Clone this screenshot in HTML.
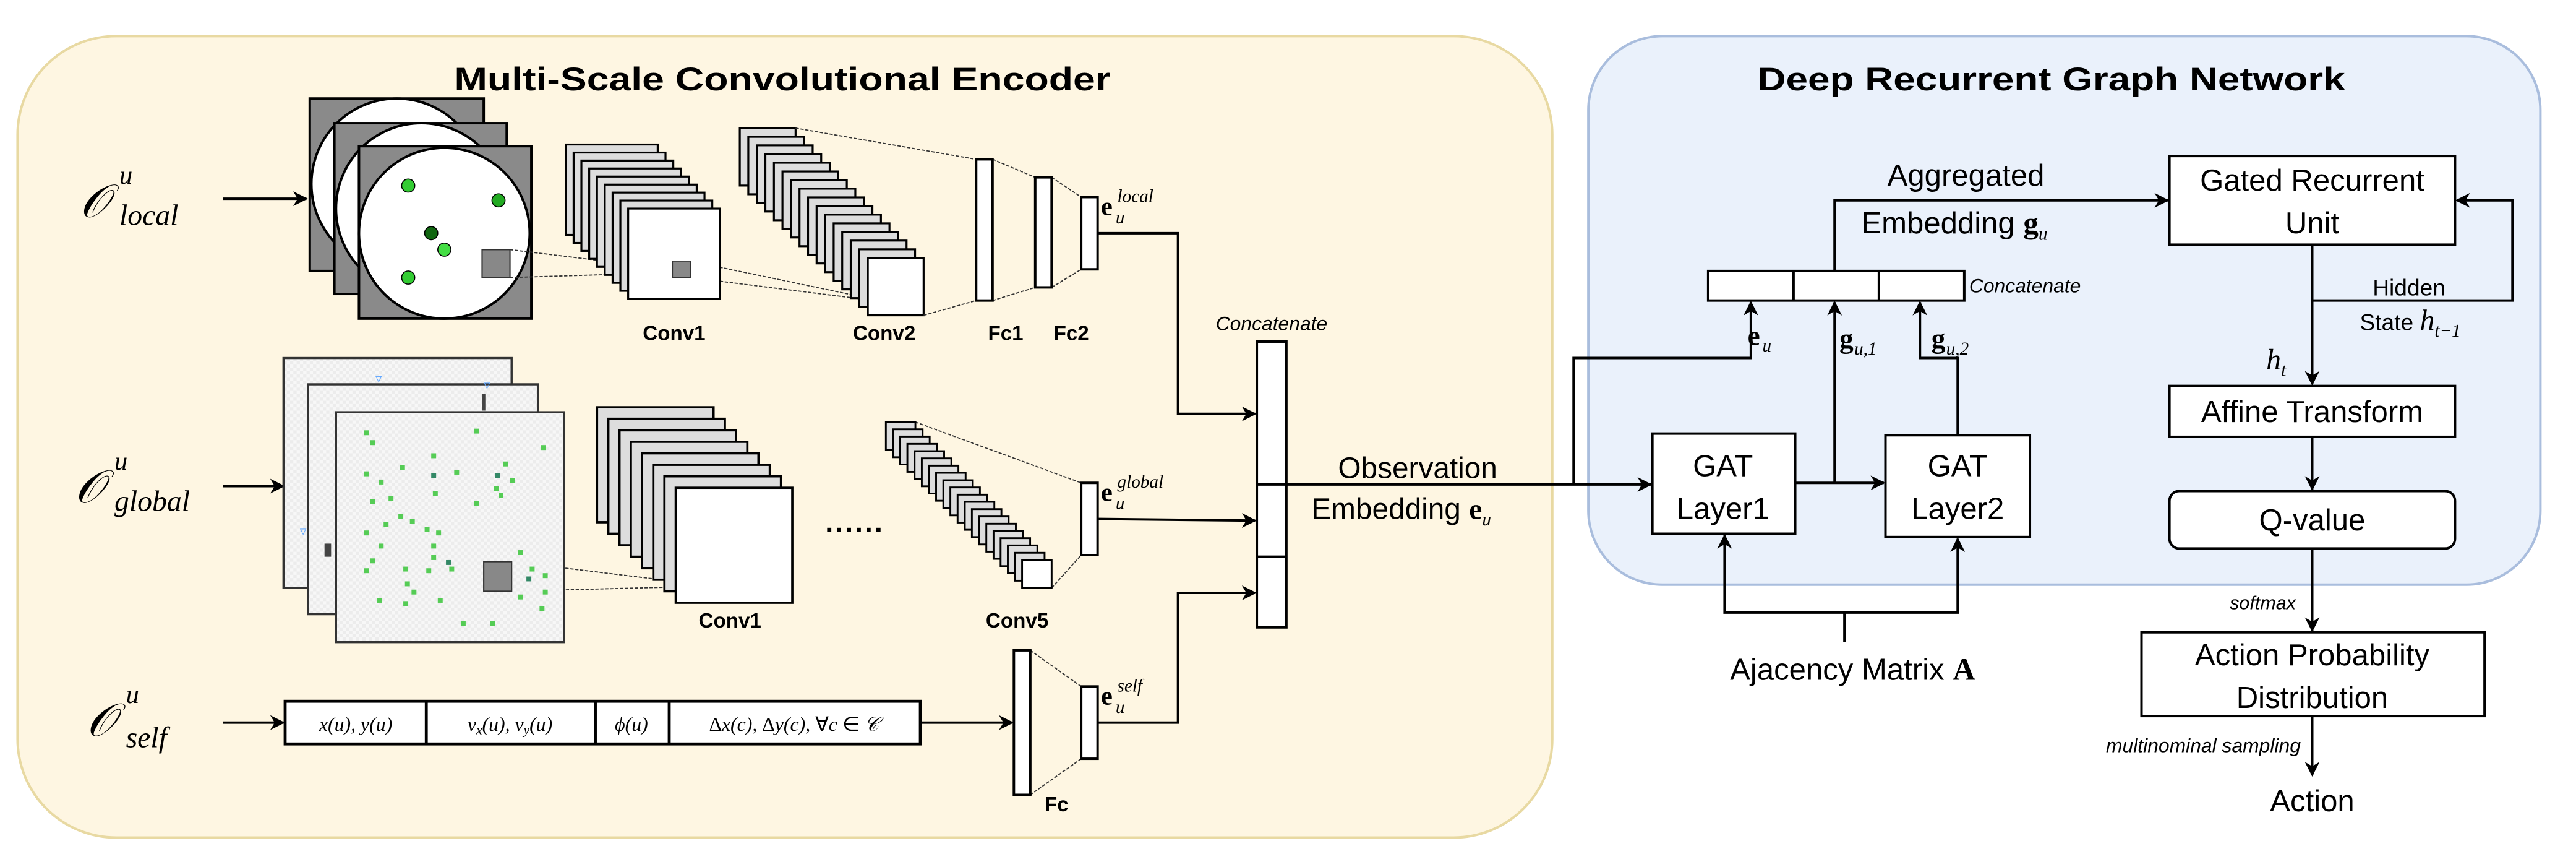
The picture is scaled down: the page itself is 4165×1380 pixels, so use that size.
<!DOCTYPE html>
<html><head><meta charset="utf-8"><style>
html,body{margin:0;padding:0;background:#fff;}
svg{display:block;}
.s{font-family:"Liberation Sans",sans-serif;}
.m{font-family:"Liberation Serif",serif;font-style:italic;}
.mb{font-family:"Liberation Serif",serif;font-weight:bold;}
</style></head><body>
<svg width="4165" height="1380" viewBox="0 0 1568 520" xmlns="http://www.w3.org/2000/svg">
<defs>
<marker id="ar" viewBox="0 0 10 10" refX="9" refY="5" markerWidth="9" markerHeight="9" orient="auto" markerUnits="userSpaceOnUse"><path d="M0,0 L10,5 L0,10 L3,5 z" fill="#000"/></marker>
<pattern id="chk" width="4" height="4" patternUnits="userSpaceOnUse"><rect width="4" height="4" fill="#f7f7f7"/><rect width="2" height="2" fill="#ececec"/><rect x="2" y="2" width="2" height="2" fill="#ececec"/></pattern>
</defs>
<rect x="10" y="22" width="935" height="488" rx="60" fill="#fef6e2" stroke="#e8d9a2" stroke-width="1.5"/>
<rect x="967" y="22" width="580" height="334" rx="45" fill="#eaf1fb" stroke="#a9bddd" stroke-width="1.5"/>
<text x="476" y="55" class="s" font-weight="bold" font-size="20" text-anchor="middle" textLength="400" lengthAdjust="spacingAndGlyphs">Multi-Scale Convolutional Encoder</text>
<text x="1249" y="55" class="s" font-weight="bold" font-size="20" text-anchor="middle" textLength="358" lengthAdjust="spacingAndGlyphs">Deep Recurrent Graph Network</text>

<g fill="none" stroke="#000" stroke-width="1.5">
<line x1="135" y1="121" x2="186" y2="121" marker-end="url(#ar)"/>
<line x1="135" y1="296" x2="172" y2="296" marker-end="url(#ar)"/>
<line x1="135" y1="440" x2="172" y2="440" marker-end="url(#ar)"/>
</g>
<text x="48" y="132" class="m" font-size="28">𝒪</text>
<text x="72" y="112" class="m" font-size="16">u</text>
<text x="72" y="137" class="m" font-size="18">local</text>
<text x="45" y="306" class="m" font-size="28">𝒪</text>
<text x="69" y="286" class="m" font-size="16">u</text>
<text x="69" y="311" class="m" font-size="18">global</text>
<text x="52" y="448" class="m" font-size="28">𝒪</text>
<text x="76" y="428" class="m" font-size="16">u</text>
<text x="76" y="455" class="m" font-size="18">self</text>

<g stroke="#000" stroke-width="1.5">
<rect x="188" y="60" width="106" height="105" fill="#8a8a8a"/>
<ellipse cx="241" cy="112" rx="52" ry="52" fill="#fff"/>
<rect x="203" y="75" width="105" height="104" fill="#8a8a8a"/>
<ellipse cx="256" cy="127" rx="52" ry="52" fill="#fff"/>
<rect x="218" y="89" width="105" height="105" fill="#8a8a8a"/>
<ellipse cx="270" cy="142" rx="52" ry="52" fill="#fff"/>
</g>
<g stroke="#000" stroke-width="0.6">
<circle cx="248" cy="113" r="4" fill="#3c3"/>
<circle cx="303" cy="122" r="4" fill="#2a2"/>
<circle cx="262" cy="142" r="4" fill="#161"/>
<circle cx="270" cy="152" r="4" fill="#4d4"/>
<circle cx="248" cy="169" r="4" fill="#3c3"/>
</g>
<rect x="293" y="152" width="17" height="17" fill="#888" stroke="#333" stroke-width="0.8"/>
<g stroke="#333" stroke-width="0.7" stroke-dasharray="2,1">
<line x1="310" y1="152" x2="409" y2="164"/><line x1="310" y1="169" x2="409" y2="166"/>
<line x1="420" y1="159" x2="540" y2="184"/><line x1="420" y1="169" x2="540" y2="184"/>
</g>
<g stroke="#000" stroke-width="1.2" fill="#ddd">
<rect x="344" y="88" width="56" height="55"/><rect x="348.75" y="92.9" width="56" height="55"/><rect x="353.5" y="97.75" width="56" height="55"/><rect x="358.25" y="102.6" width="56" height="55"/><rect x="363" y="107.5" width="56" height="55"/><rect x="367.75" y="112.4" width="56" height="55"/><rect x="372.5" y="117.25" width="56" height="55"/><rect x="377.25" y="122.1" width="56" height="55"/><rect x="382" y="127" width="56" height="55" fill="#fff"/>
</g>
<rect x="409" y="159" width="11" height="10" fill="#888" stroke="#333" stroke-width="0.6"/>
<g stroke="#000" stroke-width="1.2" fill="#ddd">
<rect x="450" y="78" width="34" height="35"/><rect x="455.2" y="83.3" width="34" height="35"/><rect x="460.4" y="88.5" width="34" height="35"/><rect x="465.6" y="93.8" width="34" height="35"/><rect x="470.8" y="99.1" width="34" height="35"/><rect x="476" y="104.4" width="34" height="35"/><rect x="481.2" y="109.6" width="34" height="35"/><rect x="486.4" y="114.9" width="34" height="35"/><rect x="491.6" y="120.2" width="34" height="35"/><rect x="496.8" y="125.4" width="34" height="35"/><rect x="502" y="130.7" width="34" height="35"/><rect x="507.2" y="136" width="34" height="35"/><rect x="512.4" y="141.2" width="34" height="35"/><rect x="517.6" y="146.5" width="34" height="35"/><rect x="522.8" y="151.8" width="34" height="35"/><rect x="528" y="157" width="34" height="35" fill="#fff"/>
</g>
<g stroke="#333" stroke-width="0.7" stroke-dasharray="2,1">
<line x1="484" y1="78" x2="594" y2="97"/><line x1="562" y1="192" x2="594" y2="183"/>
<line x1="604" y1="97" x2="630" y2="108"/><line x1="604" y1="183" x2="630" y2="175"/>
<line x1="640" y1="108" x2="658" y2="120"/><line x1="640" y1="175" x2="658" y2="164"/>
<line x1="557" y1="257" x2="658" y2="294"/><line x1="640" y1="358" x2="658" y2="338"/>
<line x1="627" y1="396" x2="658" y2="418"/><line x1="627" y1="484" x2="658" y2="462"/>
<line x1="311" y1="342" x2="427" y2="356"/><line x1="311" y1="360" x2="427" y2="357"/>
</g>
<g stroke="#000" stroke-width="1.5" fill="#fff">
<rect x="594" y="97" width="10" height="86"/>
<rect x="630" y="108" width="10" height="67"/>
<rect x="658" y="120" width="10" height="44"/>
<rect x="658" y="294" width="10" height="44"/>
<rect x="617" y="396" width="10" height="88"/>
<rect x="658" y="418" width="10" height="44"/>
</g>
<g class="s" font-weight="bold" font-size="12.5" text-anchor="middle">
<text x="410" y="207">Conv1</text><text x="538" y="207">Conv2</text><text x="612" y="207">Fc1</text><text x="652" y="207">Fc2</text>
<text x="444" y="382">Conv1</text><text x="619" y="382">Conv5</text><text x="643" y="494">Fc</text>
</g>
<text x="670" y="131" class="mb" font-size="16">e</text><text x="679" y="136" class="m" font-size="11">u</text><text x="680" y="123" class="m" font-size="11">local</text>
<text x="670" y="305" class="mb" font-size="16">e</text><text x="679" y="310" class="m" font-size="11">u</text><text x="680" y="297" class="m" font-size="11">global</text>
<text x="670" y="429" class="mb" font-size="16">e</text><text x="679" y="434" class="m" font-size="11">u</text><text x="680" y="421" class="m" font-size="11">self</text>

<g stroke="#333" stroke-width="1.3">
<rect x="172" y="218" width="139" height="140" fill="url(#chk)"/>
<rect x="187" y="234" width="140" height="140" fill="url(#chk)"/>
<rect x="204" y="251" width="139" height="140" fill="url(#chk)"/>
</g>
<text x="228" y="233" font-size="8" fill="#6af" class="s">▿</text>
<text x="294" y="237" font-size="8" fill="#6af" class="s">▿</text>
<text x="182" y="326" font-size="8" fill="#6af" class="s">▿</text>
<rect x="293" y="240" width="2" height="10" fill="#444"/>
<rect x="197" y="331" width="4" height="8" fill="#444"/>
<g fill="#5c5">
<rect x="221" y="262" width="3" height="3"/><rect x="225" y="268" width="3" height="3"/><rect x="288" y="261" width="3" height="3"/><rect x="329" y="271" width="3" height="3"/>
<rect x="262" y="276" width="3" height="3"/><rect x="243" y="283" width="3" height="3"/><rect x="276" y="286" width="3" height="3"/><rect x="306" y="281" width="3" height="3"/>
<rect x="221" y="287" width="3" height="3"/><rect x="230" y="292" width="3" height="3"/><rect x="300" y="296" width="3" height="3"/><rect x="310" y="291" width="3" height="3"/>
<rect x="303" y="300" width="3" height="3"/><rect x="236" y="302" width="3" height="3"/><rect x="225" y="304" width="3" height="3"/><rect x="263" y="299" width="3" height="3"/>
<rect x="288" y="305" width="3" height="3"/><rect x="242" y="313" width="3" height="3"/><rect x="233" y="318" width="3" height="3"/><rect x="249" y="316" width="3" height="3"/>
<rect x="221" y="323" width="3" height="3"/><rect x="258" y="321" width="3" height="3"/><rect x="265" y="323" width="3" height="3"/><rect x="262" y="331" width="3" height="3"/>
<rect x="230" y="331" width="3" height="3"/><rect x="225" y="340" width="3" height="3"/><rect x="262" y="338" width="3" height="3"/><rect x="315" y="335" width="3" height="3"/>
<rect x="245" y="345" width="3" height="3"/><rect x="221" y="346" width="3" height="3"/><rect x="259" y="346" width="3" height="3"/><rect x="273" y="345" width="3" height="3"/>
<rect x="246" y="354" width="3" height="3"/><rect x="250" y="359" width="3" height="3"/><rect x="322" y="345" width="3" height="3"/><rect x="330" y="349" width="3" height="3"/>
<rect x="330" y="359" width="3" height="3"/><rect x="229" y="364" width="3" height="3"/><rect x="245" y="366" width="3" height="3"/><rect x="266" y="364" width="3" height="3"/>
<rect x="280" y="378" width="3" height="3"/><rect x="298" y="378" width="3" height="3"/><rect x="328" y="369" width="3" height="3"/><rect x="315" y="362" width="3" height="3"/>
</g>
<g fill="#386"><rect x="301" y="288" width="3" height="3"/><rect x="262" y="288" width="3" height="3"/><rect x="271" y="341" width="3" height="3"/><rect x="320" y="351" width="3" height="3"/></g>
<rect x="294" y="342" width="17" height="18" fill="#888" stroke="#333" stroke-width="0.8"/>
<g stroke="#000" stroke-width="1.4" fill="#ddd">
<rect x="363" y="248" width="71" height="70"/><rect x="369.9" y="255" width="71" height="70"/><rect x="376.7" y="262" width="71" height="70"/><rect x="383.6" y="269" width="71" height="70"/><rect x="390.4" y="276" width="71" height="70"/><rect x="397.3" y="283" width="71" height="70"/><rect x="404.1" y="290" width="71" height="70"/><rect x="411" y="297" width="71" height="70" fill="#fff"/>
</g>
<text x="520" y="324" class="s" font-size="18" font-weight="bold" text-anchor="middle" letter-spacing="1">......</text>
<g stroke="#000" stroke-width="1.1" fill="#ddd">
<rect x="539" y="257" width="18" height="17"/><rect x="543.4" y="261.4" width="18" height="17"/><rect x="547.7" y="265.8" width="18" height="17"/><rect x="552.1" y="270.3" width="18" height="17"/><rect x="556.5" y="274.7" width="18" height="17"/><rect x="560.9" y="279.1" width="18" height="17"/><rect x="565.2" y="283.5" width="18" height="17"/><rect x="569.6" y="287.9" width="18" height="17"/><rect x="574" y="292.4" width="18" height="17"/><rect x="578.3" y="296.8" width="18" height="17"/><rect x="582.7" y="301.2" width="18" height="17"/><rect x="587.1" y="305.6" width="18" height="17"/><rect x="591.4" y="310" width="18" height="17"/><rect x="595.8" y="314.5" width="18" height="17"/><rect x="600.2" y="318.9" width="18" height="17"/><rect x="604.6" y="323.3" width="18" height="17"/><rect x="608.9" y="327.7" width="18" height="17"/><rect x="613.3" y="332.1" width="18" height="17"/><rect x="617.7" y="336.6" width="18" height="17"/><rect x="622" y="341" width="18" height="17" fill="#fff"/>
</g>
<g stroke="#000" stroke-width="1.8" fill="#fff">
<rect x="173" y="427" width="387" height="26"/>
<line x1="259" y1="427" x2="259" y2="453"/><line x1="362" y1="427" x2="362" y2="453"/><line x1="407" y1="427" x2="407" y2="453"/>
</g>
<g class="m" font-size="12" text-anchor="middle">
<text x="216" y="445">x(u), y(u)</text>
<text x="310" y="445">v<tspan font-size="8" dy="2">x</tspan><tspan dy="-2">(u), v</tspan><tspan font-size="8" dy="2">y</tspan><tspan dy="-2">(u)</tspan></text>
<text x="384" y="445">ϕ(u)</text>
<text x="483" y="445"><tspan font-style="normal">Δ</tspan>x(c), <tspan font-style="normal">Δ</tspan>y(c), <tspan font-style="normal">∀</tspan>c <tspan font-style="normal">∈</tspan> 𝒞</text>
</g>
<g fill="none" stroke="#000" stroke-width="1.5">
<line x1="560" y1="440" x2="616" y2="440" marker-end="url(#ar)"/>
<polyline points="668,142 717,142 717,252 764,252" marker-end="url(#ar)"/>
<polyline points="668,316 764,317" marker-end="url(#ar)"/>
<polyline points="668,440 717,440 717,361 764,361" marker-end="url(#ar)"/>
<rect x="765" y="208" width="18" height="174" fill="#fff"/>
<line x1="765" y1="295" x2="783" y2="295"/><line x1="765" y1="339" x2="783" y2="339"/>
<line x1="783" y1="295" x2="1005" y2="295" marker-end="url(#ar)"/>
<polyline points="958,295 958,218 1066,218 1066,184" marker-end="url(#ar)"/>
</g>
<text x="774" y="201" class="s" font-style="italic" font-size="12" text-anchor="middle">Concatenate</text>
<text x="863" y="291" class="s" font-size="18" text-anchor="middle">Observation</text>
<text x="853" y="316" class="s" font-size="18" text-anchor="middle">Embedding <tspan class="mb" font-size="18">e</tspan><tspan class="m" font-size="11" dy="4">u</tspan></text>

<g fill="#fff" stroke="#000" stroke-width="1.5">
<rect x="1040" y="165" width="156" height="18"/>
<line x1="1092" y1="165" x2="1092" y2="183"/><line x1="1144" y1="165" x2="1144" y2="183"/>
<rect x="1006" y="264" width="87" height="61"/>
<rect x="1148" y="265" width="88" height="62"/>
<rect x="1321" y="95" width="174" height="54"/>
<rect x="1321" y="235" width="174" height="31"/>
<rect x="1321" y="299" width="174" height="35" rx="6"/>
<rect x="1304" y="385" width="209" height="51"/>
</g>
<g fill="none" stroke="#000" stroke-width="1.5">
<line x1="1093" y1="294" x2="1147" y2="294" marker-end="url(#ar)"/>
<line x1="1117" y1="294" x2="1117" y2="184" marker-end="url(#ar)"/>
<polyline points="1117,165 1117,122 1320,122" marker-end="url(#ar)"/>
<polyline points="1192,265 1192,218 1169,218 1169,184" marker-end="url(#ar)"/>
<line x1="1408" y1="149" x2="1408" y2="234" marker-end="url(#ar)"/>
<polyline points="1408,183 1530,183 1530,122 1496,122" marker-end="url(#ar)"/>
<line x1="1408" y1="266" x2="1408" y2="298" marker-end="url(#ar)"/>
<line x1="1408" y1="334" x2="1408" y2="384" marker-end="url(#ar)"/>
<line x1="1408" y1="436" x2="1408" y2="472" marker-end="url(#ar)"/>
<polyline points="1123,391 1123,373 1050,373 1050,326" marker-end="url(#ar)"/>
<polyline points="1123,373 1192,373 1192,328" marker-end="url(#ar)"/>
</g>
<text x="1199" y="178" class="s" font-style="italic" font-size="12">Concatenate</text>
<text x="1064" y="210" class="mb" font-size="17">e</text><text x="1073" y="214" class="m" font-size="11">u</text>
<text x="1120" y="212" class="mb" font-size="17">g</text><text x="1129" y="216" class="m" font-size="11">u,1</text>
<text x="1176" y="212" class="mb" font-size="17">g</text><text x="1185" y="216" class="m" font-size="11">u,2</text>
<g class="s" font-size="18.5" text-anchor="middle">
<text x="1197" y="113">Aggregated</text>
<text x="1190" y="142">Embedding <tspan class="mb">g</tspan><tspan class="m" font-size="11" dy="4">u</tspan></text>
<text x="1049" y="290">GAT</text><text x="1049" y="316">Layer1</text>
<text x="1192" y="290">GAT</text><text x="1192" y="316">Layer2</text>
<text x="1408" y="116">Gated Recurrent</text><text x="1408" y="142">Unit</text>
<text x="1408" y="257">Affine Transform</text>
<text x="1408" y="323">Q-value</text>
<text x="1408" y="405">Action Probability</text><text x="1408" y="431">Distribution</text>
<text x="1408" y="494">Action</text>
<text x="1128" y="414">Ajacency Matrix <tspan class="mb" font-size="19">A</tspan></text>
</g>
<text x="1467" y="180" class="s" font-size="14" text-anchor="middle">Hidden</text>
<text x="1437" y="201" class="s" font-size="14">State <tspan class="m" font-size="18">h</tspan><tspan class="m" font-size="11" dy="4">t−1</tspan></text>
<text x="1380" y="225" class="m" font-size="18">h</text><text x="1389" y="229" class="m" font-size="11">t</text>
<text x="1398" y="371" class="s" font-style="italic" font-size="11.5" text-anchor="end">softmax</text>
<text x="1401" y="458" class="s" font-style="italic" font-size="12" text-anchor="end">multinominal sampling</text>
</svg>
</body></html>
